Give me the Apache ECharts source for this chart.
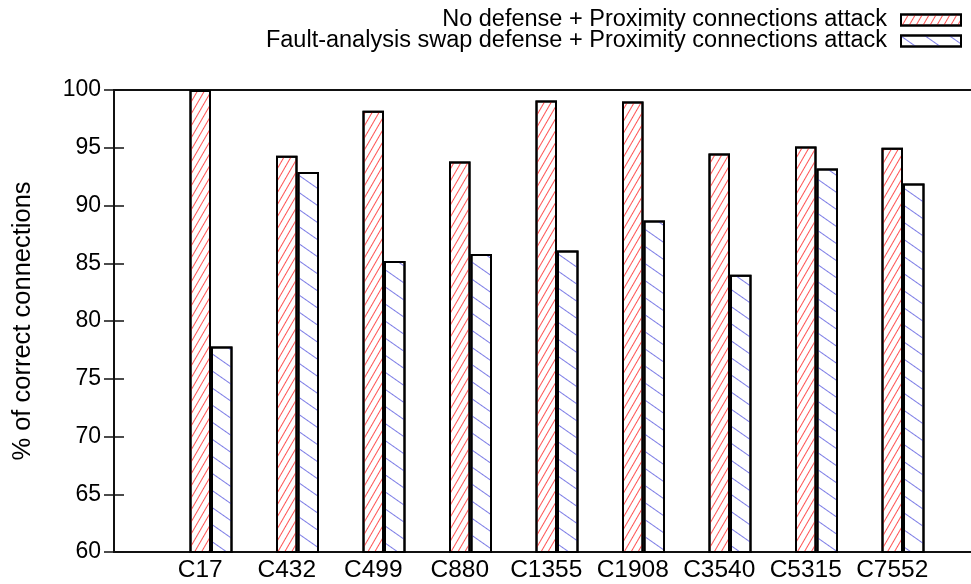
<!DOCTYPE html>
<html><head><meta charset="utf-8">
<script src="https://cdn.jsdelivr.net/npm/echarts@6/dist/echarts.min.js"></script>
<style>html,body{margin:0;padding:0;background:#fff}#c{width:971px;height:584px}</style>
</head><body><div id="c"></div>
<script>
const categories = ['C17','C432','C499','C880','C1355','C1908','C3540','C5315','C7552'];
const noDefense = [100, 94.3, 98.2, 93.8, 99.1, 99.0, 94.5, 95.1, 95.0];
const faultSwap = [77.8, 92.9, 85.2, 85.8, 86.1, 88.7, 84.0, 93.2, 91.9];
const seriesNames = ['No defense + Proximity connections attack', 'Fault-analysis swap defense + Proximity connections attack'];
const yMin = 60, yMax = 100, yStep = 5;
const yTitle = '% of correct connections';

const FONT = "'Liberation Sans', Arial, Helvetica, sans-serif";
const chart = echarts.init(document.getElementById('c'), null, {renderer: 'canvas'});
const lineStyle = {color: '#111', width: 2};
const option = {
  backgroundColor: '#fff',
  animation: false,
  textStyle: {fontFamily: FONT},
  legend: {
    data: seriesNames,
    orient: 'vertical',
    right: 9, top: 8,
    align: 'right',
    padding: 0,
    itemGap: -3,
    icon: 'rect',
    itemWidth: 60, itemHeight: 11,
    textStyle: {fontFamily: FONT, fontSize: 23.5, color: '#000', lineHeight: 21, padding: [0, 9, 0, 0]}
  },
  grid: [
    {left: 114, top: 90, width: 864, height: 462, containLabel: false},
    {left: 167.75, top: 90, width: 778.5, height: 462, containLabel: false}
  ],
  xAxis: [
    {gridIndex: 0, type: 'value', min: 0, max: 1, position: 'bottom',
     axisLine: {show: true, lineStyle}, axisTick: {show: false}, axisLabel: {show: false}, splitLine: {show: false}},
    {gridIndex: 0, type: 'value', min: 0, max: 1, position: 'top',
     axisLine: {show: true, lineStyle}, axisTick: {show: false}, axisLabel: {show: false}, splitLine: {show: false}},
    {gridIndex: 1, type: 'category', data: categories, position: 'bottom',
     axisLine: {show: false}, axisTick: {show: false},
     axisLabel: {interval: 0, hideOverlap: false, fontSize: 24.5, color: '#000', margin: 6, fontFamily: FONT, padding: [0, 21.5, 0, 0]}}
  ],
  yAxis: [
    {gridIndex: 0, type: 'value', min: yMin, max: yMax, interval: yStep, position: 'left',
     axisLine: {show: true, lineStyle}, axisTick: {show: true, inside: true, length: 10, lineStyle: {color: '#111', width: 1.5}},
     axisLabel: {fontSize: 23, color: '#000', margin: 13, fontFamily: FONT}, splitLine: {show: false},
     name: yTitle, nameLocation: 'middle', nameGap: 78, nameTextStyle: {fontSize: 25.5, color: '#000', fontFamily: FONT}},
    {gridIndex: 0, type: 'value', min: yMin, max: yMax, interval: yStep, position: 'right',
     axisLine: {show: true, lineStyle}, axisTick: {show: true, inside: true, length: 10, lineStyle: {color: '#111', width: 1.5}},
     axisLabel: {show: false}, splitLine: {show: false}},
    {gridIndex: 1, type: 'value', min: yMin, max: yMax, show: false}
  ],
  series: [
    {name: seriesNames[0], type: 'bar', xAxisIndex: 2, yAxisIndex: 2, data: noDefense,
     barWidth: 21.5, barGap: '0%',
     itemStyle: {color: '#fff', borderColor: '#000', borderWidth: 2,
       decal: {symbol: 'rect', symbolSize: 1, dashArrayX: [1, 0], dashArrayY: [1, 5], rotation: -Math.PI / 3, color: 'rgba(255,40,40,0.8)'}}},
    {name: seriesNames[1], type: 'bar', xAxisIndex: 2, yAxisIndex: 2, data: faultSwap,
     barWidth: 21.5, barGap: '0%',
     itemStyle: {color: '#fff', borderColor: '#000', borderWidth: 2,
       decal: {symbol: 'rect', symbolSize: 1, dashArrayX: [1, 0], dashArrayY: [1, 13], rotation: 0.61, color: 'rgba(70,70,220,0.7)'}}}
  ]
};
chart.setOption(option);
</script></body></html>
